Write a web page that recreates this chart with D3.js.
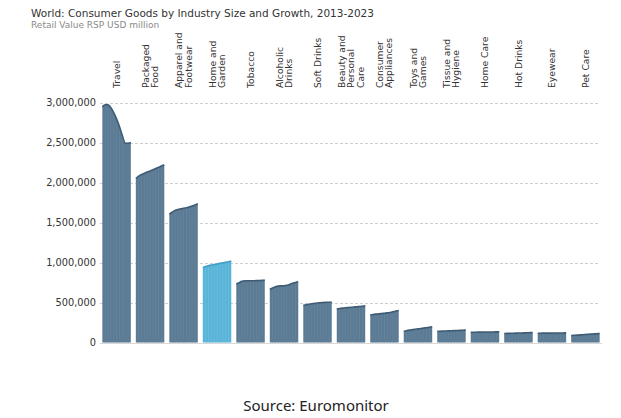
<!DOCTYPE html>
<html>
<head>
<meta charset="utf-8">
<script src="https://cdn.jsdelivr.net/npm/d3@7"></script>
<style>
  html, body { margin: 0; padding: 0; background: #fff; }
  svg { display: block; }
</style>
</head>
<body>
<svg id="chart" width="621" height="418"></svg>
<script>
// ---- data (Retail Value RSP, USD million) ----
const years = [2013, 2014, 2015, 2016, 2017, 2018, 2019, 2020, 2021, 2022, 2023];
const categories = ["Travel", "Packaged Food", "Apparel and Footwear", "Home and Garden", "Tobacco",
  "Alcoholic Drinks", "Soft Drinks", "Beauty and Personal Care", "Consumer Appliances", "Toys and Games",
  "Tissue and Hygiene", "Home Care", "Hot Drinks", "Eyewear", "Pet Care"];
const labelLines = [["Travel"], ["Packaged", "Food"], ["Apparel and", "Footwear"], ["Home and", "Garden"], ["Tobacco"],
  ["Alcoholic", "Drinks"], ["Soft Drinks"], ["Beauty and", "Personal", "Care"], ["Consumer", "Appliances"], ["Toys and", "Games"],
  ["Tissue and", "Hygiene"], ["Home Care"], ["Hot Drinks"], ["Eyewear"], ["Pet Care"]];
const travel      = [2945000, 2972000, 2970000, 2935000, 2875000, 2795000, 2700000, 2590000, 2495000, 2490000, 2500000];
const packagedFood= [2050000, 2080000, 2100000, 2115000, 2130000, 2145000, 2160000, 2175000, 2190000, 2205000, 2222000];
const apparel     = [1605000, 1630000, 1650000, 1662000, 1670000, 1677000, 1685000, 1695000, 1705000, 1718000, 1735000];
const homeGarden  = [ 935000,  950000,  960000,  968000,  975000,  982000,  990000,  996000, 1003000, 1010000, 1018000];
const tobacco     = [ 730000,  748000,  765000,  771000,  771000,  771000,  772000,  773000,  775000,  777000,  780000];
const alcoholic   = [ 665000,  682000,  696000,  705000,  708000,  710000,  716000,  726000,  740000,  750000,  760000];
const softDrinks  = [ 462000,  471000,  479000,  485000,  490000,  494000,  497000,  500000,  502000,  504000,  507000];
const beauty      = [ 420000,  425000,  430000,  434000,  437000,  440000,  443000,  447000,  450000,  454000,  458000];
const appliances  = [ 345000,  350000,  355000,  358000,  362000,  366000,  370000,  376000,  384000,  392000,  400000];
const toys        = [ 140000,  148000,  155000,  160000,  165000,  170000,  175000,  180000,  185000,  190000,  196000];
const tissue      = [ 140000,  141500,  143000,  144500,  146000,  147500,  149000,  150500,  152000,  153500,  155000];
const homeCare    = [ 128000,  128500,  129000,  129500,  130000,  130500,  131000,  131500,  132000,  132500,  133000];
const hotDrinks   = [ 112000,  113500,  115000,  116000,  117500,  118500,  119500,  120500,  122000,  123500,  125000];
const eyewear     = [ 116000,  116500,  117000,  117300,  117600,  118000,  118400,  118800,  119200,  119600,  120000];
const petCare     = [  88000,   90000,   92500,   95000,   97500,  100000,  102500,  105000,  107500,  110000,  112500];
const seriesValues = [travel, packagedFood, apparel, homeGarden, tobacco, alcoholic, softDrinks, beauty,
  appliances, toys, tissue, homeCare, hotDrinks, eyewear, petCare];
const yTicks = [0, 500000, 1000000, 1500000, 2000000, 2500000, 3000000];
const highlight = "Home and Garden";

// ---- layout ----
const svg = d3.select("#chart");
const mLeft = 100, mRight = 602, mTop = 102.5, mBottom = 342.5;

const x = d3.scaleBand().domain(categories).range([mLeft, mRight]).paddingInner(0.15).paddingOuter(0.07);
const y = d3.scaleLinear().domain([0, 3000000]).range([mBottom, mTop]);

// title
svg.append("text").attr("x", 31).attr("y", 16.5)
  .attr("font-family", "DejaVu Sans").attr("font-size", 10.5).attr("fill", "#333")
  .text("World: Consumer Goods by Industry Size and Growth, 2013-2023");
svg.append("text").attr("x", 31).attr("y", 27.5)
  .attr("font-family", "DejaVu Sans").attr("font-size", 9).attr("fill", "#8a8a8a")
  .text("Retail Value RSP USD million");

// gridlines
svg.append("g").selectAll("line").data(yTicks.filter(d => d > 0)).join("line")
  .attr("x1", mLeft).attr("x2", mRight - 2)
  .attr("y1", d => Math.round(y(d)) + 0.5).attr("y2", d => Math.round(y(d)) + 0.5)
  .attr("stroke", "#cfcfcf").attr("stroke-width", 1).attr("stroke-dasharray", "3,2");

// y axis
const yAxis = svg.append("g").attr("transform", `translate(${mLeft - 4},0)`)
  .call(d3.axisLeft(y).tickValues(yTicks).tickSize(0).tickPadding(0).tickFormat(d3.format(",")));
yAxis.select(".domain").remove();
yAxis.selectAll("text").attr("font-family", "DejaVu Sans").attr("font-size", 9.8).attr("fill", "#333");

// category labels (rotated)
const lab = svg.append("g").selectAll("g").data(categories).join("g")
  .attr("transform", (d) => `translate(${x(d) + x.bandwidth() / 2},88) rotate(-90)`);
lab.each(function (d, i) {
  const lines = labelLines[i];
  const lh = 9.3;
  d3.select(this).selectAll("text").data(lines).join("text")
    .attr("x", 0)
    .attr("y", (t, j) => (j - (lines.length - 1) / 2) * lh + 3.3)
    .attr("font-family", "DejaVu Sans").attr("font-size", 9.2).attr("fill", "#333")
    .text(t => t);
});

// small area charts
const groups = svg.append("g").selectAll("g").data(categories).join("g");
groups.each(function (cat, i) {
  const g = d3.select(this);
  const vals = seriesValues[i];
  const xi = d3.scalePoint().domain(years).range([x(cat), x(cat) + x.bandwidth()]);
  const data = years.map((yr, k) => ({ yr, v: vals[k] }));
  const isHi = cat === highlight;
  const fill = isHi ? "#58b4d8" : "#5b7a94";
  const edge = isHi ? "#3f9fc6" : "#3f5c74";
  const inner = isHi ? "#70c0df" : "#69869e";
  const area = d3.area().x(d => xi(d.yr)).y0(y(0)).y1(d => y(d.v)).curve(d3.curveMonotoneX);
  const line = d3.line().x(d => xi(d.yr)).y(d => y(d.v)).curve(d3.curveMonotoneX);
  g.append("path").attr("d", area(data)).attr("fill", fill);
  g.selectAll("line.yr").data(data.slice(1, -1)).join("line").attr("class", "yr")
    .attr("x1", d => xi(d.yr)).attr("x2", d => xi(d.yr))
    .attr("y1", y(0)).attr("y2", d => y(d.v) + 1.5)
    .attr("stroke", inner).attr("stroke-width", 0.7);
  g.append("path").attr("d", line(data)).attr("fill", "none")
    .attr("stroke", edge).attr("stroke-width", 1.6);
});

// baseline
svg.append("line").attr("x1", mLeft).attr("x2", mRight)
  .attr("y1", mBottom + 1).attr("y2", mBottom + 1)
  .attr("stroke", "#d8d8d8").attr("stroke-width", 1);

// source
svg.append("text").attr("x", 316).attr("y", 411).attr("text-anchor", "middle")
  .attr("font-family", "Noto Sans").attr("font-size", 15).attr("fill", "#222")
  .text("Source: Euromonitor");
</script>
</body>
</html>
